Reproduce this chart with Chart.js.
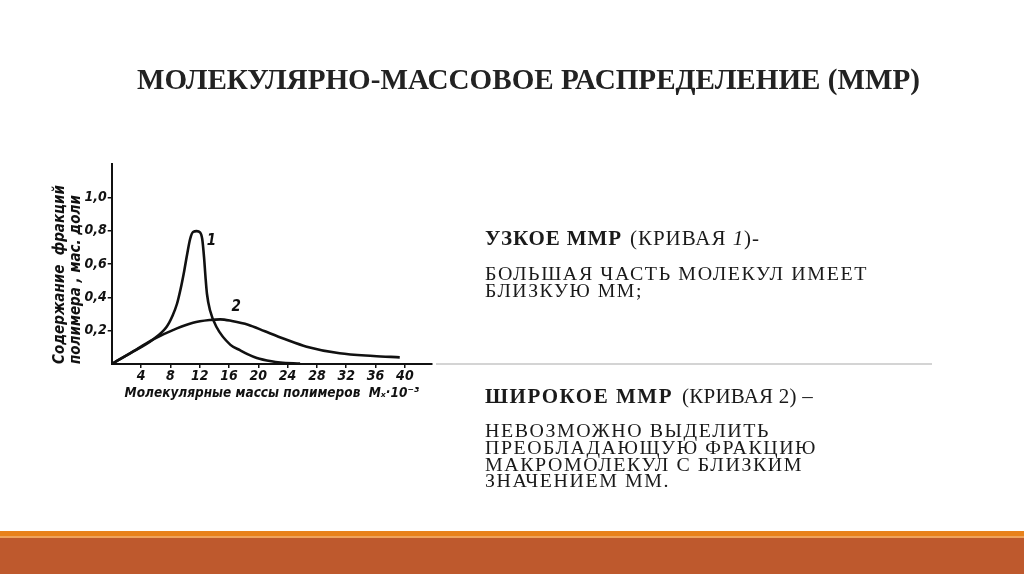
<!DOCTYPE html>
<html lang="ru">
<head>
<meta charset="utf-8">
<script src="https://cdn.jsdelivr.net/npm/chart.js@4.4.1/dist/chart.umd.min.js"></script>
<style>
  html, body { margin:0; padding:0; background:#fff; width:1024px; height:574px; overflow:hidden; }
  #wrap { position:absolute; left:0; top:0; width:1024px; height:574px; }
  canvas { position:absolute; left:0; top:0; }
  .t { position:absolute; white-space:nowrap; font-family:"Liberation Serif","Times New Roman",serif; color:#1a1a1a; transform-origin:0 50%; }
  #title { left:137px; top:61px; font-size:30px; font-weight:bold; line-height:36px; color:#222; }
  .hb { font-size:21px; line-height:24px; font-weight:bold; }
  .hr { font-size:21px; line-height:24px; }
  .bd { font-size:19px; line-height:20px; letter-spacing:1.5px; }
  #band1 { position:absolute; left:0; top:531px; width:1024px; height:5px; background:#E8821C; }
  #band2 { position:absolute; left:0; top:536px; width:1024px; height:2px; background:#EFA35C; }
  #band3 { position:absolute; left:0; top:538px; width:1024px; height:36px; background:#BE592D; }
  #divider { position:absolute; left:436px; top:363px; width:496px; height:2px; background:#d4d4d4; }
</style>
</head>
<body>
<div id="wrap">
  <canvas id="c" width="1024" height="574"></canvas>
  <div id="divider"></div>
  <div class="t fit" id="title" data-w="783">МОЛЕКУЛЯРНО-МАССОВОЕ РАСПРЕДЕЛЕНИЕ (ММР)</div>
  <div class="t hb fitls" style="left:485px; top:226px;" data-w="137">УЗКОЕ ММР</div>
  <div class="t hr fitls" style="left:630px; top:226px;" data-w="130">(КРИВАЯ <i>1</i>)-</div>
  <div class="t bd fit" style="left:485px; top:264px;" data-w="383">БОЛЬШАЯ ЧАСТЬ МОЛЕКУЛ ИМЕЕТ</div>
  <div class="t bd fit" style="left:485px; top:281px;" data-w="158">БЛИЗКУЮ ММ;</div>
  <div class="t hb fitls" style="left:485px; top:384px;" data-w="188">ШИРОКОЕ ММР</div>
  <div class="t hr fitls" style="left:682px; top:384px;" data-w="131">(КРИВАЯ 2) –</div>
  <div class="t bd fit" style="left:485px; top:421px;" data-w="285">НЕВОЗМОЖНО ВЫДЕЛИТЬ</div>
  <div class="t bd fit" style="left:485px; top:438px;" data-w="332">ПРЕОБЛАДАЮЩУЮ ФРАКЦИЮ</div>
  <div class="t bd fit" style="left:485px; top:455px;" data-w="318">МАКРОМОЛЕКУЛ С БЛИЗКИМ</div>
  <div class="t bd fit" style="left:485px; top:471px;" data-w="185">ЗНАЧЕНИЕМ ММ.</div>
  <div id="band1"></div><div id="band2"></div><div id="band3"></div>
</div>
<script>
// ---- data ----
const curve1X = [0, 2.5, 5.6, 7.5, 8.3, 8.9, 9.4, 9.9, 10.3, 10.7, 11.1, 11.6, 12.05, 12.35, 12.6, 12.8, 13.0, 13.4, 14.3, 16.2, 17.5, 18.6, 19.8, 21.8, 23.0, 25.7];
const curve1Y = [0, 0.064, 0.146, 0.224, 0.29, 0.36, 0.45, 0.56, 0.66, 0.75, 0.792, 0.797, 0.79, 0.75, 0.64, 0.52, 0.42, 0.324, 0.222, 0.115, 0.083, 0.058, 0.036, 0.016, 0.009, 0.002];
const curve2X = [0, 2.5, 5.6, 8.9, 11.1, 13.4, 14.8, 16.4, 18.6, 20.9, 23.6, 26.6, 31.1, 35.7, 39.3];
const curve2Y = [0, 0.064, 0.146, 0.214, 0.248, 0.264, 0.268, 0.258, 0.236, 0.196, 0.150, 0.104, 0.064, 0.048, 0.040];
const xTickValues = [4, 8, 12, 16, 20, 24, 28, 32, 36, 40];
const yTickValues = [0.2, 0.4, 0.6, 0.8, 1.0];
const yTickLabels = ['0,2', '0,4', '0,6', '0,8', '1,0'];
const curveNames = ['1', '2'];
const curveNameX = [13.6, 17.0];
const curveNameY = [0.735, 0.34];
const xAxisTitle = 'Молекулярные массы полимеров  Mₓ·10⁻³';
const yAxisTitle = ['Содержание  фракций', 'полимера , мас. доли'];
const xMax = 43.7, yMax = 1.2;

// fit text line widths (scale)
document.querySelectorAll('.fit').forEach(el => {
  const w = el.getBoundingClientRect().width;
  el.style.transform = 'scaleX(' + (+el.dataset.w / w) + ')';
});
// fit text line widths (letter spacing)
document.querySelectorAll('.fitls').forEach(el => {
  const w = el.getBoundingClientRect().width;
  const n = el.textContent.length;
  el.style.letterSpacing = ((+el.dataset.w - w) / n) + 'px';
});

const font = 'DejaVu Sans Condensed';
const toPts = (xs, ys) => xs.map((x, i) => ({x, y: ys[i]}));

const curveNamePlugin = {
  id: 'curveNames',
  afterDatasetsDraw(chart) {
    const {ctx, scales:{x, y}} = chart;
    ctx.save();
    ctx.fillStyle = '#111';
    ctx.font = 'italic bold 15px "' + font + '"';
    ctx.textAlign = 'center';
    ctx.textBaseline = 'middle';
    curveNames.forEach((n, i) => ctx.fillText(n, x.getPixelForValue(curveNameX[i]), y.getPixelForValue(curveNameY[i])));
    ctx.restore();
  }
};

new Chart(document.getElementById('c'), {
  type: 'scatter',
  data: {
    datasets: [
      { data: toPts(curve1X, curve1Y), showLine: true, borderColor: '#111', borderWidth: 2.6, pointRadius: 0, cubicInterpolationMode: 'monotone' },
      { data: toPts(curve2X, curve2Y), showLine: true, borderColor: '#111', borderWidth: 2.6, pointRadius: 0, cubicInterpolationMode: 'monotone' }
    ]
  },
  options: {
    responsive: false,
    animation: false,
    devicePixelRatio: 1,
    layout: { padding: { left: 40, top: 164, right: 592, bottom: 172 } },
    plugins: { legend: { display: false }, tooltip: { enabled: false } },
    scales: {
      x: {
        type: 'linear', min: 0, max: xMax,
        afterBuildTicks: s => { s.ticks = xTickValues.map(v => ({value: v})); },
        afterFit: s => { s.height = 38; },
        border: { color: '#111', width: 2 },
        grid: { drawOnChartArea: false, drawTicks: true, tickLength: 4, color: '#111', lineWidth: 1.5 },
        ticks: { color: '#111', padding: 0, maxRotation: 0, autoSkip: false, font: { family: font, style: 'italic', weight: 'bold', size: 14 } },
        title: { display: true, text: xAxisTitle, color: '#111', padding: { top: 0, bottom: 0 }, font: { family: font, style: 'italic', weight: 'bold', size: 13.5 } }
      },
      y: {
        type: 'linear', min: 0, max: yMax,
        afterBuildTicks: s => { s.ticks = yTickValues.map(v => ({value: v})); },
        afterFit: s => { s.width = 71.7; },
        border: { color: '#111', width: 2 },
        grid: { drawOnChartArea: false, drawTicks: true, tickLength: 4, color: '#111', lineWidth: 1.5 },
        ticks: { color: '#111', padding: 1, autoSkip: false,
          callback: (v) => { const i = yTickValues.findIndex(t => Math.abs(t - v) < 1e-6); return i >= 0 ? yTickLabels[i] : ''; },
          font: { family: font, style: 'italic', weight: 'bold', size: 14 } },
        title: { display: true, text: yAxisTitle, align: 'start', color: '#111', padding: { top: 12, bottom: 0 }, font: { family: font, style: 'italic', weight: 'bold', size: 15, lineHeight: 1.05 } }
      }
    }
  },
  plugins: [curveNamePlugin]
});
</script>
</body>
</html>
